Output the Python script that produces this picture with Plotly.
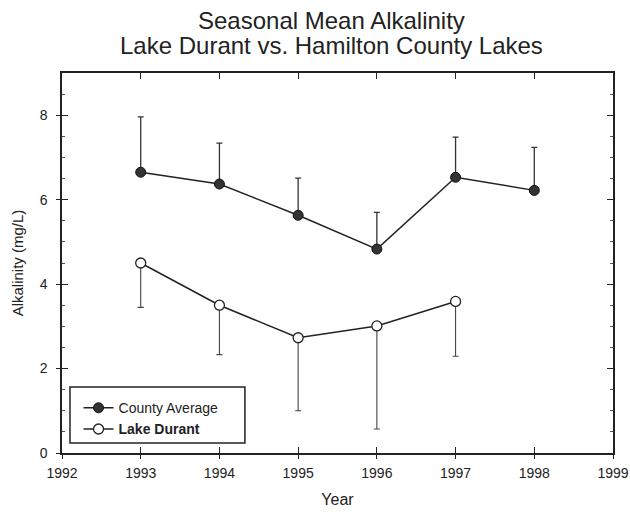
import plotly.graph_objects as go

years_county = [1993, 1994, 1995, 1996, 1997, 1998]
county_mean = [6.65, 6.37, 5.63, 4.83, 6.53, 6.22]
county_err_up = [1.31, 0.97, 0.88, 0.87, 0.95, 1.02]

years_durant = [1993, 1994, 1995, 1996, 1997]
durant_mean = [4.50, 3.50, 2.73, 3.01, 3.59]
durant_err_down = [1.05, 1.17, 1.73, 2.44, 1.30]

x_ticks = [1992, 1993, 1994, 1995, 1996, 1997, 1998, 1999]
y_ticks = [0, 2, 4, 6, 8]

title_lines = ["Seasonal Mean Alkalinity", "Lake Durant vs. Hamilton County Lakes"]

FONT = "Liberation Sans, Arial, sans-serif"

fig = go.Figure()

fig.add_trace(go.Scatter(
    x=years_county, y=county_mean, name="County Average",
    mode="lines+markers",
    line=dict(color="#222", width=1.5),
    marker=dict(symbol="circle", size=10, color="#333", line=dict(color="#111", width=1)),
    error_y=dict(type="data", symmetric=False, array=county_err_up,
                 arrayminus=[0] * len(county_err_up),
                 color="#333", thickness=1.3, width=3),
))

fig.add_trace(go.Scatter(
    x=years_durant, y=durant_mean, name="<b>Lake Durant</b>",
    mode="lines+markers",
    line=dict(color="#222", width=1.5),
    marker=dict(symbol="circle", size=10, color="white", line=dict(color="#222", width=1.3)),
    error_y=dict(type="data", symmetric=False, array=[0] * len(durant_err_down),
                 arrayminus=durant_err_down,
                 color="#444", thickness=1.1, width=3),
))

# invisible trace carrying the overlaid axes (outer half of the crossing ticks)
fig.add_trace(go.Scatter(x=[1992], y=[0], xaxis="x2", yaxis="y2",
                         mode="markers", marker=dict(opacity=0),
                         showlegend=False, hoverinfo="skip"))

for text, ypos in zip(title_lines, [1.137, 1.072]):
    fig.add_annotation(text=text, x=0.49, y=ypos, xref="paper", yref="paper",
                       xanchor="center", yanchor="middle", showarrow=False,
                       font=dict(family=FONT, size=24, color="#222"))

# legend frame (the legend itself has too little padding)
fig.add_shape(type="rect", xref="paper", yref="paper",
              x0=0.0145, x1=0.332, y0=0.026, y1=0.174,
              line=dict(color="#222", width=1.5), fillcolor="white", layer="below")

fig.update_layout(
    width=630, height=518,
    margin=dict(l=62, r=17, t=73, b=65, autoexpand=False),
    paper_bgcolor="white", plot_bgcolor="white",
    font=dict(family=FONT, size=12, color="#222"),
    xaxis=dict(
        range=[1992, 1999], tickvals=x_ticks, ticktext=[str(v) for v in x_ticks],
        showgrid=False, zeroline=False, automargin=False,
        showline=True, linecolor="#222", linewidth=1.5, mirror="ticks",
        ticks="inside", ticklen=6, tickcolor="#222",
        tickfont=dict(size=14), ticklabelstandoff=6, ticklabeloverflow="allow",
        title=dict(text="Year", font=dict(size=16), standoff=14),
    ),
    yaxis=dict(
        range=[0, 9], tickvals=y_ticks,
        showgrid=False, zeroline=False, automargin=False,
        showline=True, linecolor="#222", linewidth=1.5, mirror="ticks",
        ticks="inside", ticklen=6, tickcolor="#222",
        minor=dict(dtick=0.5, ticks="inside", ticklen=3, tickcolor="#555"),
        tickfont=dict(size=14), ticklabelstandoff=10,
        title=dict(text="Alkalinity (mg/L)", font=dict(size=15), standoff=12),
    ),
    xaxis2=dict(
        overlaying="x", range=[1992, 1999], tickvals=x_ticks, showticklabels=False,
        showgrid=False, zeroline=False, showline=False, automargin=False,
        ticks="outside", ticklen=5, tickcolor="#222", anchor="y2",
    ),
    yaxis2=dict(
        overlaying="y", range=[0, 9], tickvals=y_ticks, showticklabels=False,
        showgrid=False, zeroline=False, showline=False, automargin=False,
        ticks="outside", ticklen=5, tickcolor="#222", anchor="x2",
    ),
    legend=dict(
        x=0.03, y=0.16, xanchor="left", yanchor="top",
        bgcolor="rgba(0,0,0,0)", borderwidth=0,
        font=dict(size=14, color="#222"), tracegroupgap=0,
        itemwidth=30,
    ),
)

# drop the browser's default 8px body margin so the figure fills the window
fig.write_html("out.html", config={"displayModeBar": False},
               post_script="document.body.style.margin='0';")
